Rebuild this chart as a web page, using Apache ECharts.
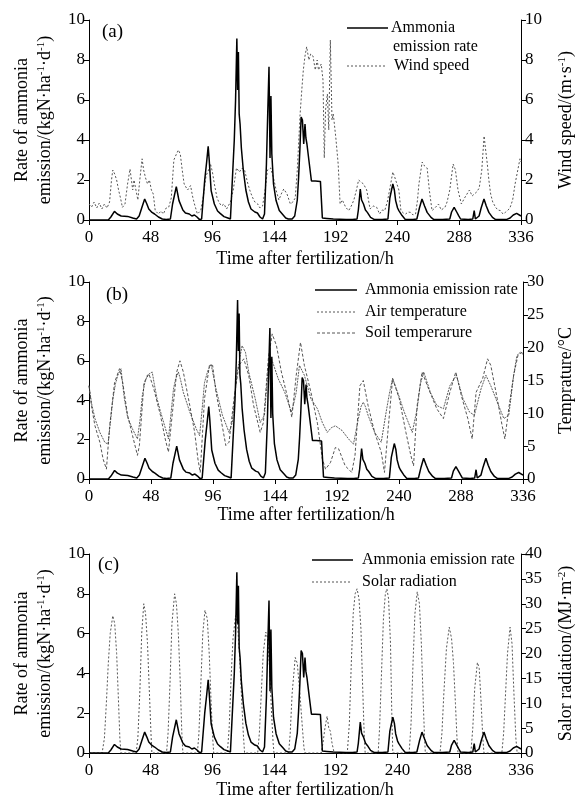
<!DOCTYPE html>
<html><head><meta charset="utf-8">
<script src="https://cdn.jsdelivr.net/npm/echarts@6/dist/echarts.min.js"></script>
<style>html,body{margin:0;padding:0;background:#fff}#c{width:586px;height:802px}</style>
</head><body><div id="c"></div>
<script>
// x ticks (hours)
const xTicks = [0,48,96,144,192,240,288,336];
// Ammonia emission rate [hour, kgN/ha/d]
const ammonia = [[0,0],[15,0],[17,0.15],[19.8,0.43],[22,0.3],[25,0.2],[30,0.18],[34,0.1],[37,0.05],[39,0.2],[41,0.6],[43.3,1.05],[45,0.8],[46.5,0.55],[49,0.38],[51,0.3],[54,0.15],[57,0.05],[60,0.02],[63.3,0.05],[65,0.8],[67.9,1.67],[69,1.3],[70,0.97],[73,0.5],[75,0.35],[78,0.3],[80,0.2],[82,0.25],[84,0.15],[86,0.02],[87.6,0.05],[90,2.0],[91.5,2.9],[92.7,3.68],[93.5,3.0],[95,1.47],[97.5,0.8],[100,0.45],[102,0.33],[105,0.17],[108,0.1],[110,0.05],[111.5,0.15],[113,4.0],[114,6.0],[115,9.08],[115.6,6.5],[116.2,8.4],[116.8,5.3],[117.5,4.8],[118.5,3.6],[120,2.5],[122,1.5],[124,0.9],[126,0.55],[129,0.4],[131,0.35],[133,0.15],[135,0.05],[136.5,0.3],[138,2.8],[139,5.3],[140,7.66],[140.8,3.1],[141.5,6.2],[142.2,3.3],[143.5,1.8],[145.5,0.97],[148,0.47],[151,0.25],[153,0.1],[155,0.05],[158,0.05],[160,0.2],[162,1.0],[163,2.1],[164,3.5],[165,5.15],[166,5.0],[167,3.8],[168,4.8],[168.7,4.1],[169.5,3.8],[170.5,3.9],[171,3.0],[173,1.95],[176,1.95],[180,1.93],[181,1.9],[181.5,0.1],[185,0.08],[190,0.05],[195,0.04],[200,0.02],[205,0.02],[208.5,0.05],[209.5,0.5],[211,1.55],[212,1.0],[213.5,0.8],[215,0.5],[216.5,0.38],[219,0.13],[222,0.02],[228,0.02],[232.5,0.05],[234,1.1],[236.3,1.8],[237.5,1.5],[238.5,0.97],[240,0.6],[241,0.47],[243.5,0.22],[246,0.03],[252,0.03],[255,0.05],[257,0.6],[259,1.05],[261,0.7],[263,0.38],[266,0.13],[268,0.03],[275,0.03],[280.6,0.05],[282,0.4],[284,0.63],[286,0.4],[287.5,0.22],[289,0.05],[295,0.03],[298.5,0.05],[299.6,0.47],[300.5,0.05],[303.4,0.2],[305,0.6],[307.2,1.05],[309,0.7],[311,0.38],[313.8,0.13],[316,0.03],[325,0.03],[327.5,0.1],[330,0.25],[332.6,0.33],[334,0.25],[336,0.2]];
// Wind speed [hour, m/s]
const windSpeed = [[0,0.8],[2,0.65],[4,0.9],[6,0.6],[8,0.85],[10,0.55],[12,0.8],[14,0.6],[16,0.9],[17.5,2.0],[18.5,2.5],[20,2.3],[21.5,2.0],[23,1.5],[24.5,1.1],[26,0.63],[28,0.8],[30,1.8],[31.9,2.55],[33,2.0],[34,1.5],[35,2.0],[36.5,1.5],[38,1.0],[39.5,2.0],[41.3,3.06],[42.5,2.5],[44,2.1],[45.5,1.8],[47,2.0],[48.5,1.5],[50,1.3],[51.5,0.47],[54,0.3],[56,0.45],[57.8,0.3],[60,0.6],[62,0.64],[64,1.1],[66,3.0],[68,3.3],[69.5,3.5],[71,3.3],[72.5,2.5],[74,1.8],[76.7,1.5],[79,1.72],[80.5,1.2],[82,0.8],[84.3,0.3],[86.9,0.47],[89,1.2],[91,2.2],[93,2.5],[94.5,2.8],[96,2.4],[97.5,1.8],[99.6,1.1],[101,0.9],[103,0.7],[105,0.8],[107,0.55],[108.4,0.64],[110,0.9],[112.2,1.5],[114.7,2.6],[117,2.4],[119,2.6],[121,2.5],[123.6,1.8],[125.5,1.4],[127.4,1.1],[129,0.9],[131.2,0.8],[133,0.6],[135,0.7],[137,1.5],[138.8,2.5],[141.3,2.6],[143.9,2.0],[145.5,1.5],[147.7,1.0],[149.5,1.3],[151.5,1.55],[154,1.3],[156.6,0.8],[158.5,0.9],[160.4,1.1],[162,2.5],[164.2,5.3],[165.5,6.5],[166.7,7.5],[168,8.2],[169.3,8.66],[171,8.0],[172.5,8.3],[174.2,8.2],[176,7.5],[177.5,8.0],[178.5,7.5],[180.6,7.8],[182,7.0],[183,3.1],[184,5.5],[185.4,6.3],[186.5,4.5],[187.7,9.0],[189,5.0],[190,5.3],[192,4.1],[193.8,2.8],[195.3,0.8],[197,1.0],[198.5,0.8],[199.6,0.64],[202,0.47],[204,0.7],[206,1.0],[208,1.5],[209.7,2.0],[211.5,1.9],[213.5,1.8],[215,1.7],[216,1.5],[218.6,0.55],[221,0.7],[223.7,0.64],[226,0.3],[228,0.5],[230,0.47],[232,0.9],[233.8,1.5],[236.3,2.4],[237.5,2.2],[238.9,2.1],[241,1.5],[242.6,0.47],[244.5,0.35],[246.4,0.3],[248,0.4],[250.2,0.38],[252,0.25],[254,0.3],[255.5,1.0],[256.6,1.8],[259.1,2.9],[261,2.7],[263,2.6],[264.7,1.5],[266.8,0.47],[269,0.6],[271.8,0.8],[274,0.5],[276.9,0.64],[278.5,0.9],[280.6,1.5],[283.2,2.8],[285,2.5],[287,1.5],[289.6,0.8],[292.1,1.1],[294,1.3],[295.9,1.5],[298,1.2],[299.7,1.3],[301.5,1.4],[303.5,1.6],[305.5,2.5],[307.3,4.2],[308.5,3.5],[309.8,2.8],[311,2.0],[312.4,1.3],[314,0.9],[316.2,0.64],[318,0.5],[320,0.47],[322,0.3],[323.8,0.38],[326,0.5],[327.6,0.64],[329.5,1.0],[331.4,1.8],[333.5,2.5],[335.2,3.06],[336,2.9]];
// Air temperature [hour, °C]
const airTemp = [[0,14.2],[2,11],[4.6,8.1],[8.4,5.6],[10.9,3.05],[13.5,1.5],[16,8.1],[19.8,14.7],[23.6,16.8],[26.1,14.7],[29.9,9.7],[33.7,6.6],[37.5,3.6],[39,5.1],[42.6,14.7],[46.4,16.0],[50.2,13.7],[55.3,9.7],[59,6.1],[61.5,4.1],[64.1,9.2],[67.9,16.3],[70.4,18.0],[73,16.3],[78,11.2],[81.8,7.1],[84.3,3.05],[86.1,1.0],[89.4,12.2],[93.2,17.3],[95.7,17.3],[98.3,13.2],[102.1,9.2],[105.9,5.1],[108.4,5.6],[112.2,12.2],[116,17.3],[119.8,18.3],[123.6,15.8],[127.4,11.2],[132.5,7.1],[135,8.6],[138.8,18.3],[141.8,22.1],[145.1,20.3],[148.9,16.3],[154,12.2],[157,9.4],[160.4,15.8],[163.7,20.8],[166.7,17.3],[171.8,13.2],[176.8,8.5],[180.6,3.05],[183.1,1.5],[186.9,2.5],[190.7,4.8],[193.2,4.6],[198.3,2.0],[203.4,1.0],[205.9,3.6],[209.7,14.2],[212.3,15.0],[216,11.2],[221.1,7.1],[226.2,4.1],[228.7,1.0],[231.3,7.1],[235,15.3],[240.2,12.2],[245.3,7.1],[249.1,3.6],[251.2,2.0],[254,11.2],[257.8,16.3],[262.9,13.7],[269.2,10.7],[274.3,9.2],[279.3,13.2],[283.9,16.3],[288.2,12.7],[293.2,9.2],[296.6,6.1],[299.6,13.2],[304.7,15.3],[308.5,18.3],[311,17.3],[316,12.2],[319.8,8.1],[321.9,6.1],[324.9,10.7],[328.7,15.8],[332,18.8],[335,19.3],[336,19]];
// Soil temperature [hour, °C]
const soilTemp = [[0,14.2],[2,11.5],[4.6,9.2],[8.4,7.1],[12.2,5.6],[14.7,5.3],[16.5,8.5],[18.5,12.2],[20.5,14.5],[22.3,15.8],[24.8,16.8],[26,14.5],[27.4,12.2],[29.9,9.4],[33.7,7.6],[37.5,6.1],[39.5,9.0],[41.3,12.7],[43,14.5],[45.1,15.8],[48.9,16.3],[50.5,14.5],[52.7,12.2],[55,10.5],[57.8,8.6],[61.5,6.1],[63.5,10],[65.4,13.7],[67,15.2],[69.2,16.3],[71,15],[73,13.2],[78,10.2],[83.1,7.6],[85.6,6.6],[87.5,10.5],[89.4,14.7],[92,16.5],[94.5,17.5],[96,16],[98.3,13.7],[103.3,9.7],[108.4,7.1],[110.9,8.6],[112.5,12],[114.7,16.3],[118.5,20.3],[121.1,19.3],[123.6,16.3],[128.7,12.2],[132.5,8.6],[135.8,9.7],[137.5,14],[138.8,17.3],[141.3,18.3],[143.5,17],[146.4,15.3],[151.5,13.2],[156.6,10.2],[158.5,11.5],[160.4,13.2],[162.9,17.3],[166.7,15.8],[171.8,12.2],[176.8,10.7],[180.6,8.6],[184.4,7.1],[187.5,7.8],[190.7,8.1],[195.8,7.4],[200.9,6.1],[204.7,5.3],[208.5,9.2],[210.5,11],[212.3,11.7],[214,11],[216,9.7],[221.1,7.1],[226.2,5.6],[230,10.2],[232.5,13],[235,15.3],[238.9,13.2],[244,10.2],[250.2,7.1],[254,10.7],[256.5,14.5],[259.1,16.3],[264.2,13.2],[269.2,11.2],[274.3,10.7],[279.3,14.2],[284.4,15.8],[289.5,12.2],[294.5,10.2],[298.3,9.7],[303.4,13.7],[307.2,15.8],[311,14.2],[316,11.7],[321.1,9.2],[324.9,9.7],[328.7,15.8],[331.2,18.8],[333.8,19.3],[336,19.0]];
// Solar radiation [hour, MJ/m2]
const solarRad = [[0,0],[10.2,0],[12,3],[13.5,10],[15,18],[16.5,24],[18.5,27.6],[20,26],[21.5,20],[23,10],[24,3],[24.8,0],
[36.7,0],[38,3],[39.5,12],[41,24],[42.6,30],[44,28],[45.5,22],[47,12],[48.2,4],[48.9,0],
[60.3,0],[61.5,4],[63,14],[64.5,26],[66.6,32],[68,30],[69.5,24],[71,14],[72.2,4],[73,0],
[84.3,0],[85.5,4],[87,14],[88.5,24],[90.2,28.7],[92,27],[93.5,20],[95,10],[96.2,3],[97,0],
[107.6,0],[109,5],[110.5,15],[112,23],[114,27.6],[115.5,26],[117,20],[118.5,12],[120,4],[121,0],
[131.2,0],[132.5,4],[134,12],[135.5,20],[137.5,24.3],[139,23],[140.5,17],[142,8],[143.2,2],[143.9,0],
[155.3,0],[156.5,4],[158,12],[160.4,19.2],[162,18],[164,12],[166,5],[167.2,1],[168,0],
[180.6,0],[182,2],[183.5,5],[185.2,7.4],[186.5,5],[187.7,4.4],[189,2],[190.7,0],
[200.9,0],[202.5,6],[204,18],[205.5,28],[207,32],[208.5,33],[210,31],[211.5,25],[213,12],[214,4],[214.8,0],
[224.9,0],[226,5],[227.5,16],[229,27],[230.5,32],[231.7,33],[233,31],[234.5,22],[235.5,8],[236.3,0],
[249,0],[250.5,6],[252,18],[253.5,28],[255.3,32.4],[257,30],[258.5,22],[260,10],[261,3],[261.6,0],
[273,0],[274.5,4],[276,12],[278,21],[280.2,25.3],[282,23],[283.5,18],[285,10],[286.2,3],[287,0],
[297,0],[298.5,5],[300,13],[302.1,18.2],[303.5,17],[305,10],[306.3,3],[307.2,0],
[321.1,0],[322.5,4],[324,12],[325.5,20],[327.5,25.3],[329,22],[330.5,12],[332,3],[333,0],[336,0]];

const FONT = '"Liberation Serif", "Times New Roman", serif';
const chart = echarts.init(document.getElementById('c'), null, {renderer:'canvas'});
const supRich = {sup:{fontSize:11, fontFamily:FONT, color:'#000', padding:[0,0,9,0]}};
const grids = [
  {left:89, right:55, top:20, height:200},
  {left:89, right:55, top:282, height:197},
  {left:89, right:55, top:554, height:199}
];
function xAx(i,gap){return {gridIndex:i,type:'value',min:0,max:336,interval:48,
  axisLine:{lineStyle:{color:'#000',width:1}},axisTick:{length:5,lineStyle:{color:'#000'}},
  axisLabel:{fontFamily:FONT,fontSize:17,color:'#000',margin:9},splitLine:{show:false},
  name:'Time after fertilization/h',nameLocation:'middle',nameGap:gap,
  nameTextStyle:{fontFamily:FONT,fontSize:18,color:'#000'}};}
function yAx(i,pos,max,interval,name,gap){return {gridIndex:i,type:'value',position:pos,min:0,max:max,interval:interval,
  axisLine:{show:true,lineStyle:{color:'#000',width:1}},axisTick:{show:true,length:5,lineStyle:{color:'#000'}},
  axisLabel:{fontFamily:FONT,fontSize:17,color:'#000',margin:4},splitLine:{show:false},
  name:name,nameLocation:'middle',nameGap:gap,nameRotate:90,
  nameTextStyle:{fontFamily:FONT,fontSize:18,color:'#000',lineHeight:23,rich:supRich}};}
const leftName = 'Rate of ammonia\nemission/(kgN·ha{sup|-1}·d{sup|-1})';
const yAxes = [
  yAx(0,'left',10,2,leftName,30), yAx(0,'right',10,2,'Wind speed/(m·s{sup|-1})',34),
  yAx(1,'left',10,2,leftName,30), yAx(1,'right',30,5,'Temprature/°C',31),
  yAx(2,'left',10,2,leftName,30), yAx(2,'right',40,5,'Salor radiation/(MJ·m{sup|-2})',34)
];
const grey = '#555';
function line(name,data,xi,yi,style,z){return {name:name,type:'line',xAxisIndex:xi,yAxisIndex:yi,data:data,
  showSymbol:false,symbol:'none',lineStyle:style,z:z,animation:false};}
const series = [
  line('Wind speed',windSpeed,0,1,{color:grey,width:1,type:[2,2]},2),
  line('Ammonia emission rate',ammonia,0,0,{color:'#000',width:1.5},3),
  line('Air temperature',airTemp,1,3,{color:grey,width:1,type:[3,2]},2),
  line('Soil temperarure',soilTemp,1,3,{color:'#333',width:0.8,type:[2,1]},2),
  line('Ammonia emission rate',ammonia,1,2,{color:'#000',width:1.5},3),
  line('Solar radiation',solarRad,2,5,{color:grey,width:1,type:[2,2]},2),
  line('Ammonia emission rate',ammonia,2,4,{color:'#000',width:1.5},3)
];
function lg(x1,x2,y,dash,w,col){return {type:'line',shape:{x1:x1,y1:y,x2:x2,y2:y},style:{stroke:col||'#000',lineWidth:w||1.5,lineDash:dash||null},z:10};}
function tx(x,y,t,fs){return {type:'text',x:x,y:y,style:{text:t,font:(fs||16)+'px '+FONT,fill:'#000',verticalAlign:'middle',align:'left'},z:10};}
const graphic = [
  tx(102,32,'(a)',19), tx(106,295,'(b)',19), tx(98,565,'(c)',19),
  lg(347,388,28), tx(391,28,'Ammonia'), tx(393,47,'emission rate'),
  lg(347,387,66,[2,2],1,grey), tx(394,66,'Wind speed'),
  lg(315,357,290), tx(365,290,'Ammonia emission rate'),
  lg(317,357,312,[2,2],1,grey), tx(365,312,'Air temperature'),
  lg(317,357,333,[3,2],1,grey), tx(365,333,'Soil temperarure'),
  lg(312,353,560), tx(362,560,'Ammonia emission rate'),
  lg(312,352,582,[2,2],1,grey), tx(362,582,'Solar radiation')
];
chart.setOption({animation:false,backgroundColor:'#fff',grid:grids,
  xAxis:[xAx(0,30),xAx(1,26),xAx(2,28)],yAxis:yAxes,series:series,graphic:graphic});
</script></body></html>
